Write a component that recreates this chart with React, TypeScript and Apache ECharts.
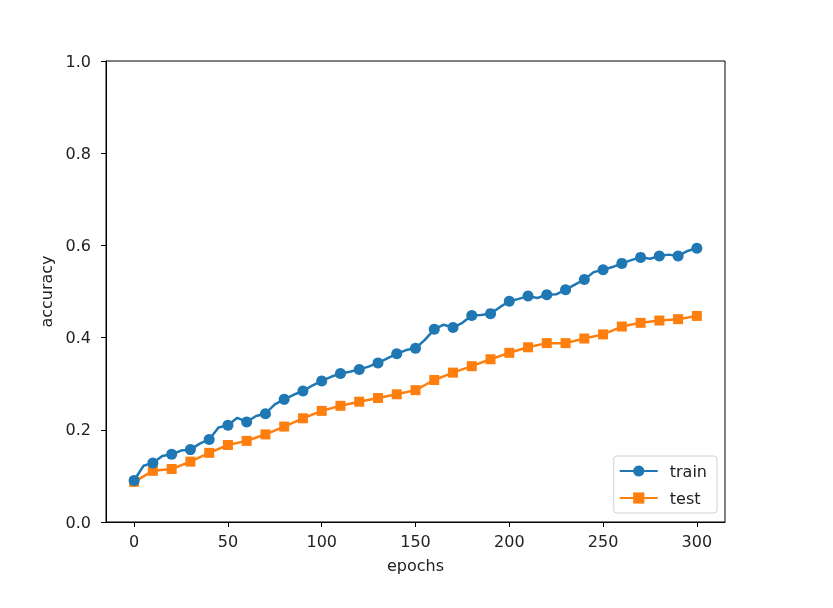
import React, { useEffect, useRef } from "react";
import * as echarts from "echarts";

const trainEpochs = [0, 5, 10, 15, 20, 25, 30, 35, 40, 45, 50, 55, 60, 65, 70, 75, 80, 85, 90, 95, 100, 105, 110, 115, 120, 125, 130, 135, 140, 145, 150, 155, 160, 165, 170, 175, 180, 185, 190, 195, 200, 205, 210, 215, 220, 225, 230, 235, 240, 245, 250, 255, 260, 265, 270, 275, 280, 285, 290, 295, 300];
const trainAcc = [0.090, 0.122, 0.128, 0.143, 0.147, 0.155, 0.157, 0.170, 0.179, 0.205, 0.210, 0.226, 0.217, 0.230, 0.235, 0.255, 0.266, 0.276, 0.284, 0.296, 0.306, 0.315, 0.322, 0.326, 0.331, 0.337, 0.345, 0.355, 0.365, 0.373, 0.377, 0.395, 0.418, 0.428, 0.422, 0.432, 0.448, 0.449, 0.452, 0.466, 0.479, 0.484, 0.490, 0.486, 0.493, 0.494, 0.504, 0.515, 0.526, 0.542, 0.547, 0.553, 0.561, 0.568, 0.574, 0.571, 0.577, 0.580, 0.577, 0.588, 0.594];
const testEpochs = [0, 10, 20, 30, 40, 50, 60, 70, 80, 90, 100, 110, 120, 130, 140, 150, 160, 170, 180, 190, 200, 210, 220, 230, 240, 250, 260, 270, 280, 290, 300];
const testAcc = [0.087, 0.111, 0.115, 0.131, 0.150, 0.167, 0.176, 0.190, 0.207, 0.225, 0.241, 0.252, 0.261, 0.269, 0.277, 0.286, 0.308, 0.324, 0.338, 0.353, 0.367, 0.379, 0.388, 0.388, 0.398, 0.407, 0.424, 0.432, 0.437, 0.440, 0.447];
const xTicks = [0, 50, 100, 150, 200, 250, 300];

const FONT = "DejaVu Sans";
const FS = 16;

export default function App() {
  const ref = useRef<HTMLDivElement>(null);
  useEffect(() => {
    if (!ref.current) return;
    const chart = echarts.init(ref.current, null, { renderer: "svg" });
    const trainData = trainEpochs.map((e, i) => [e, trainAcc[i]]);
    const testData = testEpochs.map((e, i) => [e, testAcc[i]]);
    chart.setOption({
      animation: false,
      textStyle: { fontFamily: FONT },
      grid: {
        left: 106,
        top: 61,
        right: 108,
        bottom: 86,
        show: true,
        borderColor: "#000",
        borderWidth: 1,
        backgroundColor: "transparent",
      },
      legend: {
        orient: "vertical",
        right: 116,
        bottom: 95,
        padding: [7, 10, 7, 5],
        itemGap: 11,
        itemWidth: 38,
        itemHeight: 14,
        borderColor: "#d0d0d0",
        borderWidth: 1,
        borderRadius: 3,
        backgroundColor: "#fff",
        textStyle: { fontSize: FS, color: "#222", fontFamily: FONT, padding: [0, 0, 0, 7] },
        data: ["train", "test"],
      },
      xAxis: {
        type: "value",
        min: -15,
        max: 315,
        name: "epochs",
        nameLocation: "middle",
        nameGap: 35,
        nameTextStyle: { fontSize: FS, color: "#222", fontFamily: FONT },
        axisLine: { show: true, onZero: false, lineStyle: { color: "#000", width: 1 } },
        axisTick: { show: true, customValues: xTicks, length: 5, lineStyle: { color: "#000" } },
        axisLabel: { customValues: xTicks, margin: 11, fontSize: FS, color: "#222", fontFamily: FONT },
        splitLine: { show: false },
      },
      yAxis: {
        type: "value",
        min: 0,
        max: 1,
        interval: 0.2,
        name: "accuracy",
        nameLocation: "middle",
        nameGap: 48,
        nameTextStyle: { fontSize: FS, color: "#222", fontFamily: FONT },
        axisLine: { show: true, onZero: false, lineStyle: { color: "#000", width: 1 } },
        axisTick: { show: true, length: 5, lineStyle: { color: "#000" } },
        axisLabel: {
          margin: 15,
          fontSize: FS,
          color: "#222",
          fontFamily: FONT,
          formatter: (v: number) => v.toFixed(1),
        },
        splitLine: { show: false },
      },
      series: [
        {
          name: "train",
          type: "line",
          data: trainData,
          showAllSymbol: true,
          symbol: (v: number[]) => (v[0] % 10 === 0 ? "circle" : "none"),
          symbolSize: 11,
          itemStyle: { color: "#1f77b4" },
          lineStyle: { color: "#1f77b4", width: 2.5 },
          z: 3,
        },
        {
          name: "test",
          type: "line",
          data: testData,
          showAllSymbol: true,
          symbol: "rect",
          symbolSize: 10,
          itemStyle: { color: "#ff7f0e" },
          lineStyle: { color: "#ff7f0e", width: 2.5 },
          z: 2,
        },
      ],
    });
    return () => chart.dispose();
  }, []);
  return (
    <div
      ref={ref}
      style={{ position: "fixed", left: 0, top: 0, width: 833, height: 608 }}
    />
  );
}
